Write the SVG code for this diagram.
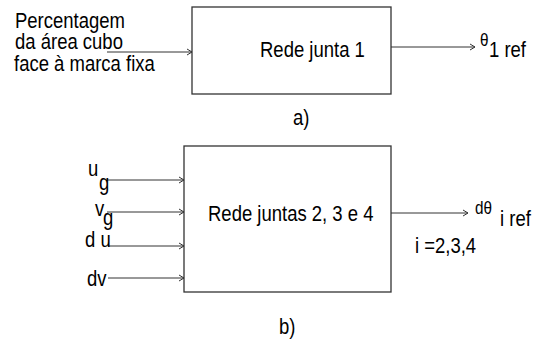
<svg xmlns="http://www.w3.org/2000/svg" width="542" height="340" viewBox="0 0 542 340">
<style>
text{font-family:"Liberation Sans",Arial,sans-serif;font-size:18.5px;fill:#000}
text.sm{font-size:18px}
.box{fill:#fff;stroke:#333;stroke-width:1.3}
.ln{stroke:#333;stroke-width:1;fill:none;marker-end:url(#ah)}
</style>
<defs>
<marker id="ah" markerUnits="userSpaceOnUse" markerWidth="8" markerHeight="8" refX="5" refY="4" orient="auto" viewBox="0 0 8 8">
<path d="M0,1 L5,4 L0,7" fill="none" stroke="#333" stroke-width="1"/>
</marker>
</defs>
<g id="connectors">
<line class="ln" x1="107" y1="52" x2="192" y2="52"/>
<line class="ln" x1="391" y1="47" x2="475" y2="47"/>
<line class="ln" x1="107" y1="180" x2="184" y2="180"/>
<line class="ln" x1="107" y1="212" x2="184" y2="212"/>
<line class="ln" x1="108" y1="246" x2="184" y2="246"/>
<line class="ln" x1="108" y1="278" x2="184" y2="278"/>
<line class="ln" x1="391" y1="213" x2="468" y2="213"/>
</g>
<g id="input-a">
<text transform="matrix(1 0 0 1.18 15 28)">Percentagem</text>
<text transform="matrix(1 0 0 1.18 15 49)">da área cubo</text>
<text transform="matrix(1 0 0 1.18 14 71)">face à marca fixa</text>
</g>
<g id="rede-junta-1">
<rect class="box" x="192" y="7" width="199" height="87"/>
<text transform="matrix(1 0 0 1.18 260 57)">Rede junta 1</text>
</g>
<g id="output-a">
<text class="sm" transform="matrix(0.85 0 0 1 480 46)">θ</text>
<text transform="matrix(1 0 0 1.18 489 57)">1 ref</text>
</g>
<text transform="matrix(1 0 0 1.18 293 125)">a)</text>
<g id="inputs-b">
<text transform="matrix(1 0 0 1.18 88 176)">u</text>
<text transform="matrix(1 0 0 1.18 99 190)">g</text>
<text transform="matrix(1 0 0 1.18 95 216)">v</text>
<text transform="matrix(1 0 0 1.18 103 225)">g</text>
<text transform="matrix(1 0 0 1.18 85 247)">d u</text>
<text transform="matrix(1 0 0 1.18 87 286)">dv</text>
</g>
<g id="rede-juntas-234">
<rect class="box" x="184" y="146" width="207" height="146"/>
<text transform="matrix(1 0 0 1.18 208 221)">Rede juntas 2, 3 e 4</text>
</g>
<g id="output-b">
<text class="sm" transform="matrix(0.85 0 0 1 475 214)">dθ</text>
<text transform="matrix(1 0 0 1.18 500 226)">i ref</text>
<text transform="matrix(1 0 0 1.18 415 253)">i =2,3,4</text>
</g>
<text transform="matrix(1 0 0 1.18 279 334)">b)</text>
</svg>
